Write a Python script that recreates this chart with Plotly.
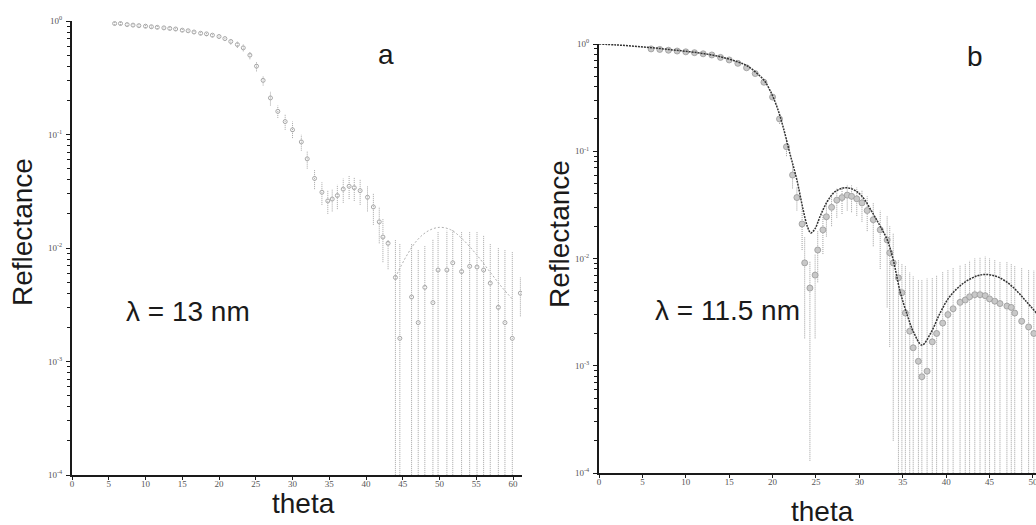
import plotly.graph_objects as go

# ---------------- Panel a data (lambda = 13 nm) ----------------
a_theta = [5.8, 6.6, 7.5, 8.3, 9.1, 10.0, 10.8, 11.6, 12.5, 13.3, 14.1, 15.0, 15.8, 16.6,
           17.5, 18.3, 19.1, 20.0, 20.8, 21.6, 22.5, 23.3, 24.2, 25.1, 26.0, 27.0, 28.0,
           29.0, 30.0, 31.2, 32.0, 33.0, 34.0, 34.8, 35.4, 36.1, 36.9, 37.7, 38.4, 39.2,
           40.2, 41.0, 41.8, 42.3, 43.0,
           44.0, 44.6, 46.2, 47.1, 48.0, 49.1, 49.8, 51.0, 51.8, 53.0, 54.1, 55.1, 56.0,
           56.9, 58.0, 58.9, 59.9, 61.0]
a_R = [0.95, 0.95, 0.93, 0.92, 0.91, 0.90, 0.89, 0.88, 0.87, 0.86, 0.85, 0.83, 0.82, 0.80,
       0.78, 0.77, 0.75, 0.73, 0.70, 0.66, 0.62, 0.58, 0.50, 0.40, 0.30, 0.21, 0.16,
       0.13, 0.11, 0.086, 0.061, 0.041, 0.031, 0.026, 0.027, 0.029, 0.033, 0.035, 0.034, 0.032,
       0.028, 0.023, 0.017, 0.0125, 0.011,
       0.0055, 0.0016, 0.0037, 0.0022, 0.0045, 0.0033, 0.0064, 0.0064, 0.0074, 0.0062, 0.0069,
       0.0068, 0.0064, 0.0049, 0.0030, 0.0022, 0.0016, 0.0040]
a_lo = [0.92, 0.92, 0.90, 0.89, 0.88, 0.87, 0.86, 0.85, 0.84, 0.83, 0.82, 0.80, 0.79, 0.77,
        0.75, 0.74, 0.72, 0.70, 0.67, 0.62, 0.58, 0.54, 0.46, 0.36, 0.27, 0.18, 0.14,
        0.11, 0.093, 0.072, 0.050, 0.033, 0.024, 0.020, 0.021, 0.022, 0.025, 0.027, 0.026, 0.024,
        0.021, 0.016, 0.011, 0.0075, 0.0065,
        0.00005, 0.00005, 0.00005, 0.00005, 0.00005, 0.00005, 0.00005, 0.00005, 0.00005, 0.00005,
        0.00005, 0.00005, 0.00005, 0.00005, 0.00005, 0.00005, 0.00005, 0.0025]
a_hi = [0.98, 0.98, 0.96, 0.95, 0.94, 0.93, 0.92, 0.91, 0.90, 0.89, 0.88, 0.86, 0.85, 0.83,
        0.81, 0.80, 0.78, 0.76, 0.73, 0.70, 0.66, 0.62, 0.54, 0.44, 0.33, 0.24, 0.18,
        0.15, 0.13, 0.10, 0.072, 0.049, 0.038, 0.032, 0.033, 0.036, 0.041, 0.043, 0.042, 0.040,
        0.035, 0.030, 0.023, 0.018, 0.0118,
        0.0118, 0.011, 0.011, 0.0097, 0.0105, 0.012, 0.0139, 0.0142, 0.0145, 0.014, 0.014,
        0.014, 0.013, 0.011, 0.010, 0.0097, 0.0093, 0.0055]
a_fit_theta = [44.0, 45.5, 47.0, 48.5, 50.0, 51.5, 53.0, 55.0, 57.0, 58.5, 60.0]
a_fit_R = [0.0055, 0.0085, 0.0118, 0.0142, 0.0152, 0.0145, 0.0122, 0.0088, 0.0060, 0.0045, 0.0035]

# ---------------- Panel b data (lambda = 11.5 nm) ----------------
b_theta = [6.0, 7.0, 8.0, 9.0, 10.0, 11.0, 12.0, 13.0, 14.0, 15.0, 16.0, 17.0, 18.0, 19.0,
           20.0, 20.8, 21.6, 22.3, 22.8, 23.4, 23.7, 24.3, 24.9, 25.2, 25.8, 26.2, 26.8,
           27.4, 28.0, 28.6, 29.1, 29.7, 30.3, 30.9, 31.6, 32.4, 33.2, 33.5, 33.9, 34.5,
           34.9, 35.3, 35.8, 36.2, 36.8, 37.2, 37.8, 38.4, 38.9, 39.6, 40.2, 40.8, 41.6,
           42.2, 42.7, 43.3, 43.9, 44.5, 45.0, 45.6, 46.2, 47.0, 47.5, 47.9, 48.7, 49.5, 50.1]
b_R = [0.90, 0.89, 0.875, 0.86, 0.845, 0.83, 0.81, 0.79, 0.75, 0.71, 0.66, 0.60, 0.53, 0.44,
       0.32, 0.20, 0.11, 0.06, 0.037, 0.021, 0.0091, 0.0053, 0.0070, 0.012, 0.0185, 0.0245, 0.030,
       0.035, 0.037, 0.039, 0.038, 0.036, 0.033, 0.028, 0.023, 0.0185, 0.0149, 0.0113, 0.0091, 0.0066,
       0.0048, 0.0031, 0.0021, 0.00147, 0.0011, 0.00079, 0.00089, 0.00167, 0.0020, 0.0025, 0.0030,
       0.0034, 0.0039, 0.0041, 0.0044, 0.0046, 0.0046, 0.0045, 0.0042, 0.0040, 0.0038, 0.0036,
       0.0035, 0.0031, 0.0026, 0.0023, 0.0020]
b_lo = [0.88, 0.87, 0.86, 0.84, 0.83, 0.81, 0.79, 0.77, 0.73, 0.69, 0.64, 0.58, 0.51, 0.42,
        0.30, 0.18, 0.09, 0.045, 0.028, 0.012, 0.0018, 0.00013, 0.0018, 0.006, 0.011, 0.016, 0.020,
        0.024, 0.026, 0.028, 0.027, 0.025, 0.022, 0.018, 0.013, 0.008, 0.0035, 0.0015, 0.0002, 0.00005,
        0.00005, 0.00005, 0.00005, 0.00005, 0.00005, 0.00005, 0.00005, 0.00005, 0.00005, 0.00005,
        0.00005, 0.00005, 0.00005, 0.00005, 0.00005, 0.00005, 0.00005, 0.00005, 0.00005, 0.00005,
        0.00005, 0.00005, 0.00005, 0.00005, 0.00005, 0.00005, 0.00005]
b_hi = [0.92, 0.91, 0.89, 0.88, 0.86, 0.85, 0.83, 0.81, 0.77, 0.73, 0.68, 0.62, 0.55, 0.46,
        0.34, 0.22, 0.13, 0.075, 0.046, 0.030, 0.016, 0.0095, 0.011, 0.018, 0.026, 0.033, 0.040,
        0.045, 0.047, 0.049, 0.048, 0.046, 0.043, 0.038, 0.033, 0.028, 0.025, 0.020, 0.017, 0.0097,
        0.0090, 0.0085, 0.0074, 0.0068, 0.0064, 0.0063, 0.0065, 0.0066, 0.0070, 0.0075, 0.0078,
        0.0082, 0.0087, 0.0090, 0.0095, 0.0100, 0.0103, 0.0104, 0.0100, 0.0097, 0.0094, 0.0093,
        0.0090, 0.0086, 0.0082, 0.0079, 0.0077]
b_fit_theta = [0, 2, 4, 6, 8, 10, 12, 14, 16, 17, 18, 19, 19.7, 20.5, 21.2, 22.0, 22.8, 23.5,
               24.0, 24.4, 24.9, 25.5, 26.3, 27.2, 28.3, 29.3, 30.3, 31.6, 32.4, 33.2, 33.9,
               34.7, 35.5, 36.2, 37.2, 38.2, 39.3, 40.4, 42.0, 43.6, 44.6, 46.0, 47.6, 49.2, 50.4]
b_fit_R = [1.0, 0.98, 0.955, 0.925, 0.89, 0.855, 0.815, 0.76, 0.68, 0.63, 0.55, 0.46, 0.37, 0.26,
           0.17, 0.095, 0.054, 0.029, 0.020, 0.0173, 0.019, 0.025, 0.034, 0.042, 0.0456, 0.044,
           0.038, 0.026, 0.020, 0.015, 0.0097, 0.0049, 0.0030, 0.0021, 0.00156, 0.0020, 0.0031,
           0.0044, 0.0059, 0.0069, 0.0071, 0.0067, 0.0055, 0.0040, 0.0031]

x_ticks_a = [0, 5, 10, 15, 20, 25, 30, 35, 40, 45, 50, 55, 60]
x_ticks_b = [0, 5, 10, 15, 20, 25, 30, 35, 40, 45, 50]
y_ticks = [1e-4, 1e-3, 1e-2, 1e-1, 1]
y_tick_text = ["10<sup>-4</sup>", "10<sup>-3</sup>", "10<sup>-2</sup>", "10<sup>-1</sup>", "10<sup>0</sup>"]


def bars(theta, lo, hi):
    xs, ys = [], []
    for t, l, h in zip(theta, lo, hi):
        xs += [t, t, None]
        ys += [l, h, None]
    return xs, ys


fig = go.Figure()

# panel a
ex, ey = bars(a_theta, a_lo, a_hi)
fig.add_trace(go.Scatter(x=ex, y=ey, mode="lines", xaxis="x", yaxis="y",
                         line=dict(color="#a5a5a5", width=1, dash="1px,1px"),
                         hoverinfo="skip", showlegend=False))
fig.add_trace(go.Scatter(x=a_fit_theta, y=a_fit_R, mode="lines", xaxis="x", yaxis="y",
                         line=dict(color="#b0b0b0", width=1, dash="2px,2px", shape="spline"),
                         showlegend=False))
fig.add_trace(go.Scatter(x=a_theta, y=a_R, mode="markers", xaxis="x", yaxis="y",
                         marker=dict(symbol="circle-open", size=4, color="#a8a8a8",
                                     line=dict(width=1)),
                         showlegend=False))

# panel b
ex, ey = bars(b_theta, b_lo, b_hi)
fig.add_trace(go.Scatter(x=ex, y=ey, mode="lines", xaxis="x2", yaxis="y2",
                         line=dict(color="#9f9f9f", width=1, dash="1px,1px"),
                         hoverinfo="skip", showlegend=False))
fig.add_trace(go.Scatter(x=b_theta, y=b_R, mode="markers", xaxis="x2", yaxis="y2",
                         marker=dict(symbol="circle", size=6, color="#c8c8c8",
                                     line=dict(color="#999999", width=0.8)),
                         showlegend=False))
fig.add_trace(go.Scatter(x=b_fit_theta, y=b_fit_R, mode="lines", xaxis="x2", yaxis="y2",
                         line=dict(color="#333333", width=1.5, dash="2px,1px", shape="spline"),
                         showlegend=False))

W, H = 1036, 525
ax_a = dict(x0=72, x1=522, y0=21, y1=475, xr=[0, 61.22])
ax_b = dict(x0=599, x1=1036, y0=44, y1=473, xr=[0, 50.35])


def px(x):
    return x / W


def py(y):
    return (H - y) / H


minor_vals = [m * 10 ** e for e in range(-4, 0) for m in range(2, 10)]
tick_font = dict(family="Liberation Serif, DejaVu Serif, serif", size=9, color="#555555")


def xaxis(ax, ticks, anchor, overlay=None, side_ticks="outside", labels=True):
    d = dict(domain=[px(ax["x0"]), px(ax["x1"])], range=ax["xr"], anchor=anchor,
             showline=True, linecolor="#1a1a1a", linewidth=2, showgrid=False, zeroline=False,
             tickvals=ticks, ticks=side_ticks, ticklen=3, tickwidth=1.2, tickcolor="#1a1a1a",
             showticklabels=labels, tickfont=tick_font, automargin=False, fixedrange=True,
             ticklabelstandoff=-4, ticklabeloverflow="allow")
    if overlay:
        d["overlaying"] = overlay
    return d


def yaxis(ax, anchor, overlay=None, side_ticks="outside", labels=True):
    d = dict(domain=[py(ax["y1"]), py(ax["y0"])], type="log", range=[-4, 0],
             anchor=anchor, showline=True, linecolor="#1a1a1a", linewidth=2, showgrid=False,
             zeroline=False, tickvals=y_ticks, ticktext=y_tick_text, ticks=side_ticks, ticklen=4,
             tickwidth=1.2, tickcolor="#1a1a1a", showticklabels=labels, tickfont=tick_font,
             automargin=False, fixedrange=True, ticklabelstandoff=2,
             minor=dict(tickvals=minor_vals, ticks=side_ticks, ticklen=3, tickwidth=1,
                        tickcolor="#1a1a1a", showgrid=False))
    if overlay:
        d["overlaying"] = overlay
    return d


big = dict(family="Liberation Sans, Arial, Helvetica, sans-serif", size=28, color="#1a1a1a")


def ann(text, x, y, angle=0):
    return dict(text=text, x=px(x), y=py(y), xref="paper", yref="paper", textangle=angle,
                showarrow=False, font=big, xanchor="center", yanchor="middle")


fig.update_layout(
    width=W, height=H, margin=dict(l=0, r=0, t=0, b=0),
    paper_bgcolor="white", plot_bgcolor="white", showlegend=False,
    xaxis=xaxis(ax_a, x_ticks_a, "y"),
    yaxis=yaxis(ax_a, "x"),
    xaxis2=xaxis(ax_b, x_ticks_b, "y2"),
    yaxis2=yaxis(ax_b, "x2"),
    xaxis3=xaxis(ax_a, x_ticks_a, "y", overlay="x", side_ticks="inside", labels=False),
    yaxis3=yaxis(ax_a, "x", overlay="y", side_ticks="inside", labels=False),
    xaxis4=xaxis(ax_b, x_ticks_b, "y2", overlay="x2", side_ticks="inside", labels=False),
    yaxis4=yaxis(ax_b, "x2", overlay="y2", side_ticks="inside", labels=False),
    annotations=[
        ann("Reflectance", 22, 232, -90),
        ann("theta", 303, 503),
        ann("a", 386, 55),
        ann("λ = 13 nm", 188, 311),
        ann("Reflectance", 559, 234, -90),
        ann("theta", 822, 511),
        ann("b", 975, 56),
        ann("λ = 11.5 nm", 727, 310),
    ],
)

# remove the browser's default body margin so the figure fills the window exactly
fig.write_html("out.html", config={"displayModeBar": False},
               post_script="document.body.style.margin='0px';document.body.style.overflow='hidden';")
